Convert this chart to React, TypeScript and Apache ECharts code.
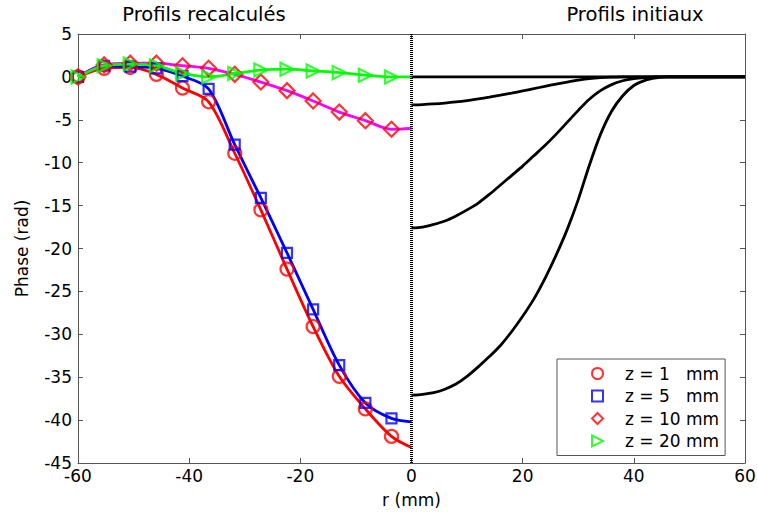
import React, { useEffect, useRef } from "react";
import * as echarts from "echarts";

// Recalculated profiles (left half): marker abscissae (mm) and phases (rad)
const rRecalc = [-60, -55.3, -50.6, -45.9, -41.2, -36.5, -31.8, -27.1, -22.4, -17.7, -13.0, -8.3, -3.6];
const phaseZ1 = [0, 1.0, 1.1, 0.3, -1.3, -2.9, -8.9, -15.5, -22.4, -29.1, -34.9, -38.7, -41.9];
const phaseZ5 = [0, 1.3, 1.2, 1.0, 0.1, -1.4, -7.9, -14.1, -20.5, -27.1, -33.6, -38.0, -39.8];
const phaseZ10 = [0, 1.4, 1.6, 1.6, 1.3, 1.0, 0.3, -0.6, -1.6, -2.8, -4.1, -5.1, -6.1];
const phaseZ20 = [0, 1.3, 1.5, 1.3, 0.4, 0.0, 0.4, 0.8, 0.9, 0.7, 0.5, 0.2, 0.0];
// line values at r = 0
const rEnd = 0;
const endZ1 = -43.2;
const endZ5 = -40.2;
const endZ10 = -6.0;
const endZ20 = 0.0;

// Initial profiles (right half)
const rInit = [0, 2, 4, 6, 8, 10, 12, 14, 16, 18, 20, 22, 24, 26, 28, 30, 32, 34, 36, 38, 40, 42, 44, 46, 48, 50, 60];
const init1 = [0, 0, 0, 0, 0, 0, 0, 0, 0, 0, 0, 0, 0, 0, 0, 0, 0, 0, 0, 0, 0, 0, 0, 0, 0, 0, 0];
const init2 = [-3.25, -3.22, -3.15, -3.05, -2.92, -2.76, -2.57, -2.36, -2.13, -1.89, -1.63, -1.37, -1.1, -0.84, -0.6, -0.38, -0.2, -0.09, -0.03, 0, 0, 0, 0, 0, 0, 0, 0];
const init3 = [-17.6, -17.5, -17.2, -16.8, -16.2, -15.5, -14.7, -13.7, -12.6, -11.5, -10.4, -9.2, -8.0, -6.7, -5.3, -3.9, -2.6, -1.6, -0.9, -0.45, -0.2, -0.07, 0, 0, 0, 0, 0];
const init4 = [-37.1, -37.0, -36.8, -36.4, -35.8, -34.9, -33.8, -32.6, -31.3, -29.7, -27.9, -25.9, -23.5, -20.8, -17.8, -14.3, -10.3, -6.7, -4.0, -2.2, -1.0, -0.4, -0.12, 0, 0, 0, 0];

// Axis ticks
const xTicks = { min: -60, max: 60, interval: 20 };
const yTicks = { min: -45, max: 5, interval: 5 };

const legendNames = [
  "z = 1\u00a0\u00a0\u00a0mm",
  "z = 5\u00a0\u00a0\u00a0mm",
  "z = 10 mm",
  "z = 20 mm",
];
const titles = ["Profils recalculés", "Profils initiaux"];
const xName = "r (mm)";
const yName = "Phase (rad)";

const FONT = "DejaVu Sans";
const AXIS_COLOR = "#555";
const RIGHT_TRIANGLE = "path://M0,0L10,5L0,10Z";

function pairs(xs: number[], ys: number[]) {
  return xs.map((x, i) => [x, ys[i]]);
}

export default function App() {
  const ref = useRef<HTMLDivElement>(null);

  useEffect(() => {
    document.body.style.margin = "0";
    if (!ref.current) return;
    const chart = echarts.init(ref.current, null, { renderer: "svg" });

    const lineSeries = (name: string, xs: number[], ys: number[], color: string, smooth: number) => ({
      name,
      type: "line",
      data: pairs(xs, ys),
      showSymbol: false,
      symbol: "none",
      smooth,
      lineStyle: { color, width: 2.8 },
      z: 2,
      silent: true,
    });

    const markerSeries = (name: string, ys: number[], color: string, symbol: string, size: number) => ({
      name,
      type: "scatter",
      data: pairs(rRecalc, ys),
      symbol,
      symbolSize: size,
      itemStyle: { color: "rgba(255,255,255,0)", borderColor: color, borderWidth: 2.2 },
      z: 3,
      silent: true,
    });

    const axisCommon = {
      type: "value",
      splitLine: { show: false },
      axisLine: { onZero: false, lineStyle: { color: AXIS_COLOR, width: 1 } },
      axisTick: { inside: true, length: 5, lineStyle: { color: AXIS_COLOR, width: 1 } },
    };

    chart.setOption({
      animation: false,
      backgroundColor: "#fff",
      textStyle: { fontFamily: FONT },
      grid: { left: 78, right: 13, top: 34, bottom: 53, containLabel: false, outerBoundsMode: "none" },
      xAxis: [
        {
          ...axisCommon,
          ...xTicks,
          position: "bottom",
          axisLabel: { color: "#000", fontSize: 17, fontFamily: FONT, margin: 4 },
          name: xName,
          nameLocation: "middle",
          nameGap: 28,
          nameTextStyle: { color: "#000", fontSize: 17, fontFamily: FONT },
        },
        {
          ...axisCommon,
          ...xTicks,
          position: "top",
          axisLabel: { show: false },
        },
      ],
      yAxis: [
        {
          ...axisCommon,
          ...yTicks,
          position: "left",
          axisLabel: { color: "#000", fontSize: 17, fontFamily: FONT, margin: 6 },
          name: yName,
          nameLocation: "middle",
          nameGap: 48,
          nameTextStyle: { color: "#000", fontSize: 17, fontFamily: FONT },
        },
        {
          ...axisCommon,
          ...yTicks,
          position: "right",
          axisLabel: { show: false },
        },
      ],
      legend: {
        data: legendNames,
        orient: "vertical",
        left: 557,
        top: 359,
        backgroundColor: "#fff",
        borderColor: AXIS_COLOR,
        borderWidth: 1,
        borderRadius: 0,
        padding: [6, 6, 6, 34],
        itemWidth: 11,
        itemHeight: 11,
        itemGap: 5.5,
        selectedMode: false,
        textStyle: { color: "#000", fontSize: 17, fontFamily: FONT, padding: [0, 0, 0, 17] },
      },
      graphic: [
        {
          type: "text",
          x: 204,
          y: 14,
          style: { text: titles[0], fontSize: 19.5, fontFamily: FONT, fill: "#000", align: "center", verticalAlign: "middle" },
        },
        {
          type: "text",
          x: 635,
          y: 14,
          style: { text: titles[1], fontSize: 19.5, fontFamily: FONT, fill: "#000", align: "center", verticalAlign: "middle" },
        },
      ],
      series: [
        // initial profiles
        lineSeries("initial 1", rInit, init1, "#000", 0),
        lineSeries("initial 2", rInit, init2, "#000", 0.3),
        lineSeries("initial 3", rInit, init3, "#000", 0.3),
        lineSeries("initial 4", rInit, init4, "#000", 0.3),
        // recalculated profile lines
        lineSeries("line z1", [...rRecalc, rEnd], [...phaseZ1, endZ1], "#ff0000", 0.3),
        lineSeries("line z5", [...rRecalc, rEnd], [...phaseZ5, endZ5], "#0000ff", 0.3),
        lineSeries("line z10", [...rRecalc, rEnd], [...phaseZ10, endZ10], "#ff00ff", 0.3),
        lineSeries("line z20", [...rRecalc, rEnd], [...phaseZ20, endZ20], "#00ff00", 0.3),
        // markers
        markerSeries(legendNames[0], phaseZ1, "#ff0000", "circle", 13),
        markerSeries(legendNames[1], phaseZ5, "#0000ff", "rect", 10),
        markerSeries(legendNames[2], phaseZ10, "#ff0000", "diamond", 15),
        markerSeries(legendNames[3], phaseZ20, "#00ff00", RIGHT_TRIANGLE, 13),
        // dotted separator at r = 0
        {
          name: "separator",
          type: "line",
          data: [
            [0, yTicks.max],
            [0, yTicks.min],
          ],
          symbol: "none",
          lineStyle: { color: "#000", width: 3, type: [1, 1] },
          z: 4,
          silent: true,
        },
      ],
    });

    return () => chart.dispose();
  }, []);

  return <div ref={ref} style={{ width: 758, height: 516 }} />;
}
